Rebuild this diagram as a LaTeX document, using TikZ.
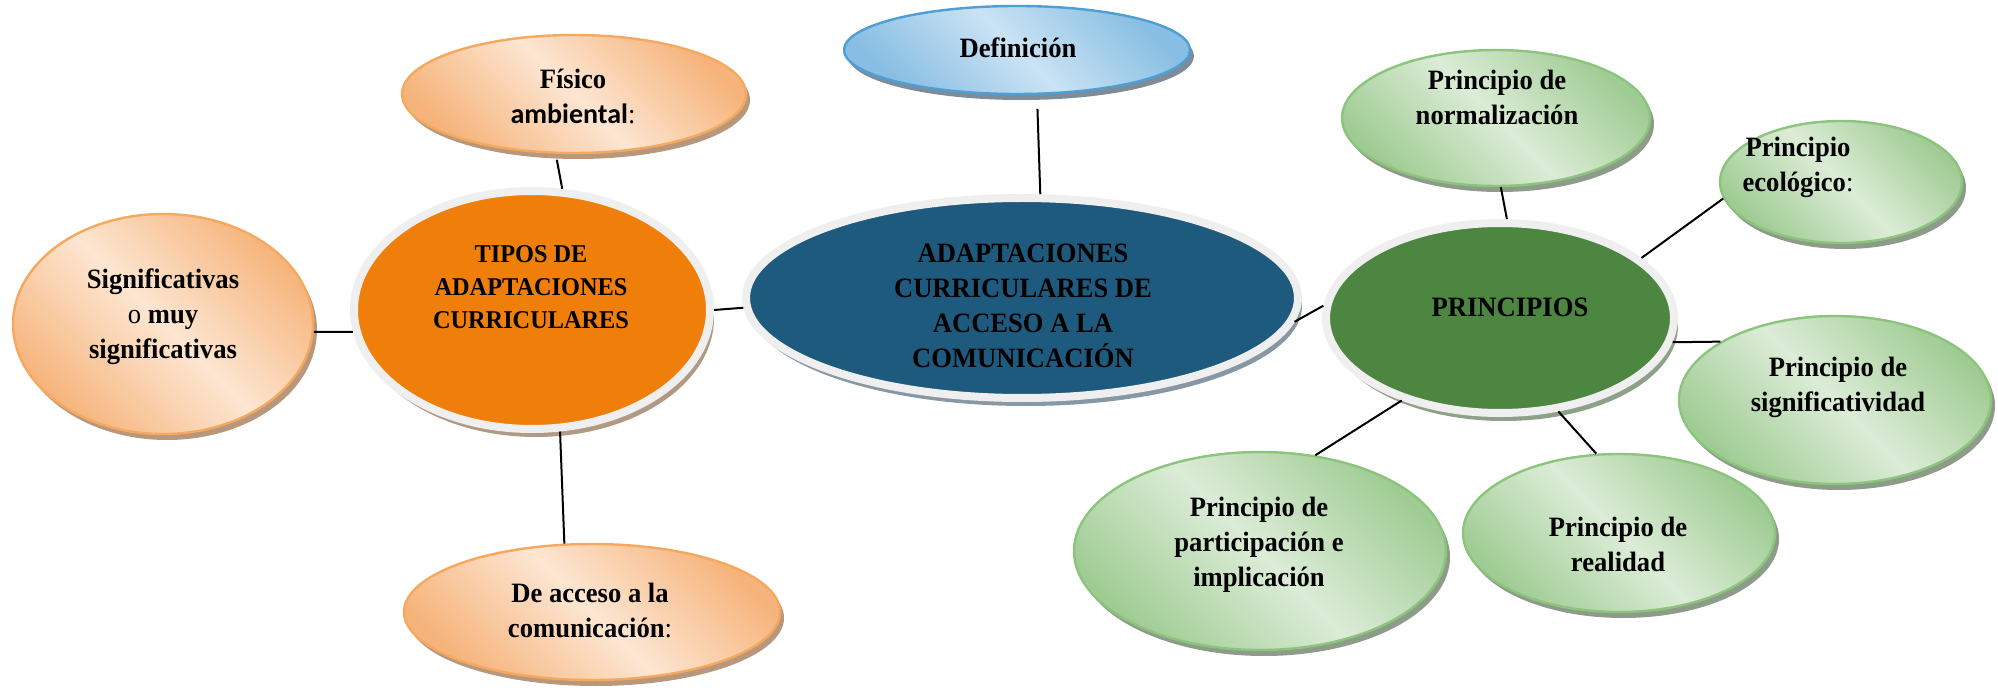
\documentclass[tikz,border=0pt]{standalone}
\usepackage{fontspec}
\setmainfont{Liberation Serif}[FakeStretch=0.95]
\newfontfamily\calibri{Carlito}
\usetikzlibrary{shapes.geometric,shadows}
\definecolor{orD}{HTML}{F6B47C}
\definecolor{orL}{HTML}{FDE6D2}
\definecolor{orB}{HTML}{F5A85E}
\definecolor{orS}{HTML}{B8987C}
\definecolor{grD}{HTML}{9FCC93}
\definecolor{grL}{HTML}{DCECD7}
\definecolor{grB}{HTML}{8CC47E}
\definecolor{grS}{HTML}{8C9C88}
\definecolor{blD}{HTML}{88BEE3}
\definecolor{blL}{HTML}{CAE3F4}
\definecolor{blB}{HTML}{4E9FD5}
\definecolor{blS}{HTML}{7E8C98}
\definecolor{tipF}{HTML}{EF7F0A}
\definecolor{tipS}{HTML}{B09A86}
\definecolor{cenF}{HTML}{1E5A7D}
\definecolor{cenS}{HTML}{8797A4}
\definecolor{priF}{HTML}{4D8641}
\definecolor{priS}{HTML}{8FA08A}
\definecolor{ringc}{HTML}{EFEFEF}
\begin{document}
\begin{tikzpicture}[x=0.5pt,y=-0.5pt,
  base/.style={ellipse, inner sep=0pt},
  lite/.style={base, line width=1.2pt},
  orlite/.style={lite, draw=orB, left color=orD, right color=orD, middle color=orL, shading angle=-45,
     drop shadow={shadow xshift=2pt, shadow yshift=-3pt, fill=orS, opacity=1}},
  grlite/.style={lite, draw=grB, left color=grD, right color=grD, middle color=grL, shading angle=-45,
     drop shadow={shadow xshift=2pt, shadow yshift=-3pt, fill=grS, opacity=1}},
  bllite/.style={lite, draw=blB, left color=blD, right color=blD, middle color=blL, shading angle=-45,
     drop shadow={shadow xshift=2pt, shadow yshift=-3pt, fill=blS, opacity=1}},
  ring/.style={base, draw=ringc, line width=4pt},
  txt/.style={align=center, inner sep=0pt, font=\fontsize{14}{17.5}\selectfont\bfseries},
  smalltxt/.style={align=center, inner sep=0pt, font=\fontsize{12.8}{16.5}\selectfont\bfseries},
  conn/.style={line width=1pt, black}
]
\useasboundingbox (0,0) rectangle (1998,695);

% light nodes
\node[orlite, minimum width=172pt, minimum height=59pt] (fis) at (574,94) {};
\node[orlite, minimum width=150pt, minimum height=110pt] (sig) at (163,324) {};
\node[orlite, minimum width=188pt, minimum height=68pt] (acc) at (592,612) {};
\node[bllite, minimum width=173pt, minimum height=44pt] (def) at (1017,50) {};
\node[grlite, minimum width=154pt, minimum height=68pt] (norm) at (1496,118) {};
\node[grlite, minimum width=121pt, minimum height=61pt] (eco) at (1841,182) {};
\node[grlite, minimum width=156pt, minimum height=84pt] (sigv) at (1835,400) {};
\node[grlite, minimum width=156pt, minimum height=79pt] (real) at (1619,533) {};
\node[grlite, minimum width=186pt, minimum height=99pt] (part) at (1260,551) {};

% ring nodes
\node[ring, fill=tipF, minimum width=178pt, minimum height=119pt,
  drop shadow={shadow xshift=2pt, shadow yshift=-4pt, fill=tipS, opacity=1}] (tipos) at (532,310) {};
\node[ring, fill=cenF, minimum width=276pt, minimum height=100pt,
  drop shadow={shadow xshift=2pt, shadow yshift=-4pt, fill=cenS, opacity=1}] (center) at (1022,298) {};
\node[ring, fill=priF, minimum width=174pt, minimum height=95pt,
  drop shadow={shadow xshift=2pt, shadow yshift=-4pt, fill=priS, opacity=1}] (princ) at (1500,318) {};

% texts
\node[txt] (fisT) at (573,96) {Físico\\{\calibri\bfseries ambiental}{\mdseries:}};
\node[txt] (sigT) at (163,317) {Significativas\\{\mdseries o} muy\\significativas};
\node[txt] (accT) at (590,610) {De acceso a la\\comunicación{\mdseries:}};
\node[txt] (defT) at (1018,48) {Definición};
\node[smalltxt] (tiposT) at (531,287) {TIPOS DE\\ADAPTACIONES\\CURRICULARES};
\node[txt] (centerT) at (1023,306) {ADAPTACIONES\\CURRICULARES DE\\ACCESO A LA\\COMUNICACIÓN};
\node[txt] (princT) at (1510,307) {PRINCIPIOS};
\node[txt] (normT) at (1497,97) {Principio de\\normalización};
\node[txt] (ecoT) at (1798,167) {Principio\\ecológico{\mdseries:}};
\node[txt] (sigvT) at (1838,387) {Principio de\\significatividad};
\node[txt] (realT) at (1618,544) {Principio de\\realidad};
\node[txt] (partT) at (1259,545) {Principio de\\participación e\\implicación};

% connectors
\draw[conn, shorten <=3pt] (fis.-107) -- (tipos.76);
\draw[conn] (sig.-3) -- (tipos.-173);
\draw[conn] (tipos.-77) -- (acc.112);
\draw[conn] (tipos.0) -- (center.-178);
\draw[conn, shorten <=7pt] (def.-66) -- (center.80);
\draw[conn] (center.-5) -- (princ.176);
\draw[conn] (norm.-86) -- (princ.86);
\draw[conn] (princ.23) -- (eco.-172);
\draw[conn] (princ.-8) -- (sigv.153);
\draw[conn] (princ.-58) -- (real.106);
\draw[conn] (princ.-140) -- (part.60);
\end{tikzpicture}
\end{document}
